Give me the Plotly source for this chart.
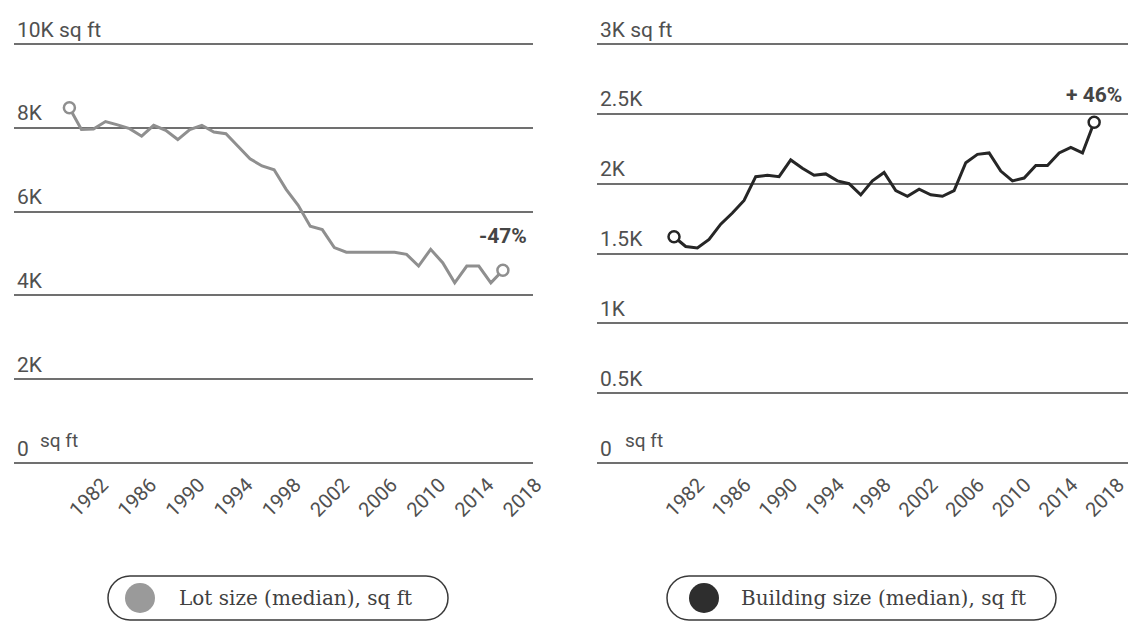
import plotly.graph_objects as go

# page body has an 8px margin: draw on a slightly smaller canvas and map
# reference pixel positions through px()/py()
OFF = 8
W, H = 1139 - 2 * OFF, 629 - 2 * OFF

years = list(range(1980, 2017))
lot_size = [8480, 7960, 7970, 8150, 8070, 7980, 7800, 8060, 7940, 7720,
            7960, 8060, 7900, 7860, 7560, 7260, 7090, 7000, 6530, 6150,
            5650, 5570, 5140, 5030, 5030, 5030, 5030, 5030, 4980, 4700,
            5100, 4780, 4300, 4700, 4700, 4300, 4600]
building_size = [1620, 1550, 1540, 1600, 1710, 1790, 1880, 2050, 2060, 2050,
                 2170, 2110, 2060, 2070, 2020, 2000, 1920, 2020, 2080, 1950,
                 1910, 1960, 1920, 1910, 1950, 2150, 2210, 2220, 2090, 2020,
                 2040, 2130, 2130, 2220, 2260, 2220, 2440]

x_ticks = [1982, 1986, 1990, 1994, 1998, 2002, 2006, 2010, 2014, 2018]
lot_ticks = [0, 2000, 4000, 6000, 8000, 10000]
lot_ticktext = ["0", "2K", "4K", "6K", "8K", "10K sq ft"]
bld_ticks = [0, 500, 1000, 1500, 2000, 2500, 3000]
bld_ticktext = ["0", "0.5K", "1K", "1.5K", "2K", "2.5K", "3K sq ft"]
zero_unit = "sq ft"

lot_change = "-47%"
bld_change = "+ 46%"
lot_legend = "Lot size (median), sq ft"
bld_legend = "Building size (median), sq ft"

LOT_COLOR = "#8f8f8f"
BLD_COLOR = "#262626"
GRID = "#707070"
TXT = "#505050"

LOT_XRANGE = [1975.4, 2018.5]
BLD_XRANGE = [1973.4, 2018.9]


def px(x):
    return (x - OFF) / W


def py(y):
    return 1 - (y - OFF) / H


fig = go.Figure()

fig.add_trace(go.Scatter(x=years, y=lot_size, mode="lines",
                         line=dict(color=LOT_COLOR, width=3),
                         xaxis="x", yaxis="y", showlegend=False,
                         name=lot_legend))
fig.add_trace(go.Scatter(x=[years[0], years[-1]], y=[lot_size[0], lot_size[-1]],
                         mode="markers", xaxis="x", yaxis="y", showlegend=False,
                         marker=dict(symbol="circle", size=11, color="white",
                                     line=dict(color=LOT_COLOR, width=2.5))))
fig.add_trace(go.Scatter(x=years, y=building_size, mode="lines",
                         line=dict(color=BLD_COLOR, width=3),
                         xaxis="x2", yaxis="y2", showlegend=False,
                         name=bld_legend))
fig.add_trace(go.Scatter(x=[years[0], years[-1]],
                         y=[building_size[0], building_size[-1]],
                         mode="markers", xaxis="x2", yaxis="y2", showlegend=False,
                         marker=dict(symbol="circle", size=11, color="white",
                                     line=dict(color=BLD_COLOR, width=2.5))))
# empty trace that carries the left panel's year axis (drawn on its own subplot
# so the inside y labels do not suppress its first tick label)
fig.add_trace(go.Scatter(x=[], y=[], xaxis="x3", yaxis="y3", showlegend=False,
                         hoverinfo="skip"))

xcommon = dict(tickmode="array", tickvals=x_ticks, tickangle=-45,
               showgrid=False, zeroline=False, showline=False, automargin=False,
               ticks="", ticklabelstandoff=1, ticklabeloverflow="allow",
               tickfont=dict(family="Roboto", size=20, color=TXT))
ycommon = dict(tickmode="array", showgrid=True, gridcolor=GRID, gridwidth=1.5,
               zeroline=False, showline=False, ticks="", automargin=False,
               ticklabelposition="inside top",
               tickfont=dict(family="Roboto", size=21, color=TXT))

# pixel rows: 0 -> 463, top value -> 44; extend range below by 1% and above by
# 8% so the edge gridlines and the top tick label stay inside the subplot
lo, hi = 0.01, 0.08
span = 463 - 44
y_dom = [py(463 + span * lo), py(44 - span * hi)]
lot_xdom = [px(14), px(533)]

fig.update_layout(
    width=W, height=H,
    margin=dict(l=0, r=0, t=0, b=0, autoexpand=False),
    paper_bgcolor="white", plot_bgcolor="rgba(0,0,0,0)",
    xaxis=dict(domain=lot_xdom, range=LOT_XRANGE, anchor="y",
               **{**xcommon, "showticklabels": False}),
    yaxis=dict(domain=y_dom, range=[-10000 * lo, 10000 * (1 + hi)], anchor="x",
               tickvals=lot_ticks, ticktext=lot_ticktext, **ycommon),
    xaxis3=dict(domain=lot_xdom, range=LOT_XRANGE, anchor="y3",
                ticklabelshift=9, **xcommon),
    yaxis3=dict(domain=y_dom, range=[-10000 * lo, 10000 * (1 + hi)], anchor="x3",
                visible=False, showgrid=False, zeroline=False),
    xaxis2=dict(domain=[px(597), px(1128)], range=BLD_XRANGE,
                anchor="y2", ticklabelshift=1, **xcommon),
    yaxis2=dict(domain=y_dom, range=[-3000 * lo, 3000 * (1 + hi)], anchor="x2",
                tickvals=bld_ticks, ticktext=bld_ticktext, **ycommon),
)

fig.add_annotation(x=years[-1], y=5420, xref="x", yref="y", text=f"<b>{lot_change}</b>",
                   showarrow=False, xanchor="center", yanchor="middle",
                   font=dict(family="Roboto", size=21, color="#454545"))
fig.add_annotation(x=years[-1], y=2635, xref="x2", yref="y2", text=f"<b>{bld_change}</b>",
                   showarrow=False, xanchor="center", yanchor="middle",
                   font=dict(family="Roboto", size=21, color="#454545"))

# small raised unit next to the "0" tick label
for xp in (38, 623):
    fig.add_annotation(x=px(xp), y=py(440), xref="paper", yref="paper", text=zero_unit,
                       showarrow=False, xanchor="left", yanchor="middle",
                       font=dict(family="Roboto", size=19, color=TXT))


def pill(x0, x1, yc, h):
    r = h / 2
    k = 0.5523 * r
    y0, y1 = yc - r, yc + r
    pts = [
        f"M{px(x0 + r)},{py(y0)}",
        f"L{px(x1 - r)},{py(y0)}",
        f"C{px(x1 - r + k)},{py(y0)} {px(x1)},{py(yc - k)} {px(x1)},{py(yc)}",
        f"C{px(x1)},{py(yc + k)} {px(x1 - r + k)},{py(y1)} {px(x1 - r)},{py(y1)}",
        f"L{px(x0 + r)},{py(y1)}",
        f"C{px(x0 + r - k)},{py(y1)} {px(x0)},{py(yc + k)} {px(x0)},{py(yc)}",
        f"C{px(x0)},{py(yc - k)} {px(x0 + r - k)},{py(y0)} {px(x0 + r)},{py(y0)}",
        "Z",
    ]
    return " ".join(pts)


LEG_Y = 598
for (x0, x1, cx, cr, col, tx, label) in [
    (108, 448, 140, 15, "#9a9a9a", 177, lot_legend),
    (667, 1056, 704, 15, "#2e2e2e", 739, bld_legend),
]:
    fig.add_shape(type="path", path=pill(x0, x1, LEG_Y, 44), xref="paper", yref="paper",
                  line=dict(color="#3a3a3a", width=1.5), fillcolor="white", layer="above")
    fig.add_shape(type="circle", xref="paper", yref="paper",
                  x0=px(cx - cr), x1=px(cx + cr), y0=py(LEG_Y + cr), y1=py(LEG_Y - cr),
                  line=dict(color=col, width=0), fillcolor=col, layer="above")
    fig.add_annotation(x=px(tx), y=py(LEG_Y), xref="paper", yref="paper", text=label,
                       showarrow=False, xanchor="left", yanchor="middle",
                       font=dict(family="DejaVu Serif", size=20, color="#404040"))

fig.write_html("out.html")
